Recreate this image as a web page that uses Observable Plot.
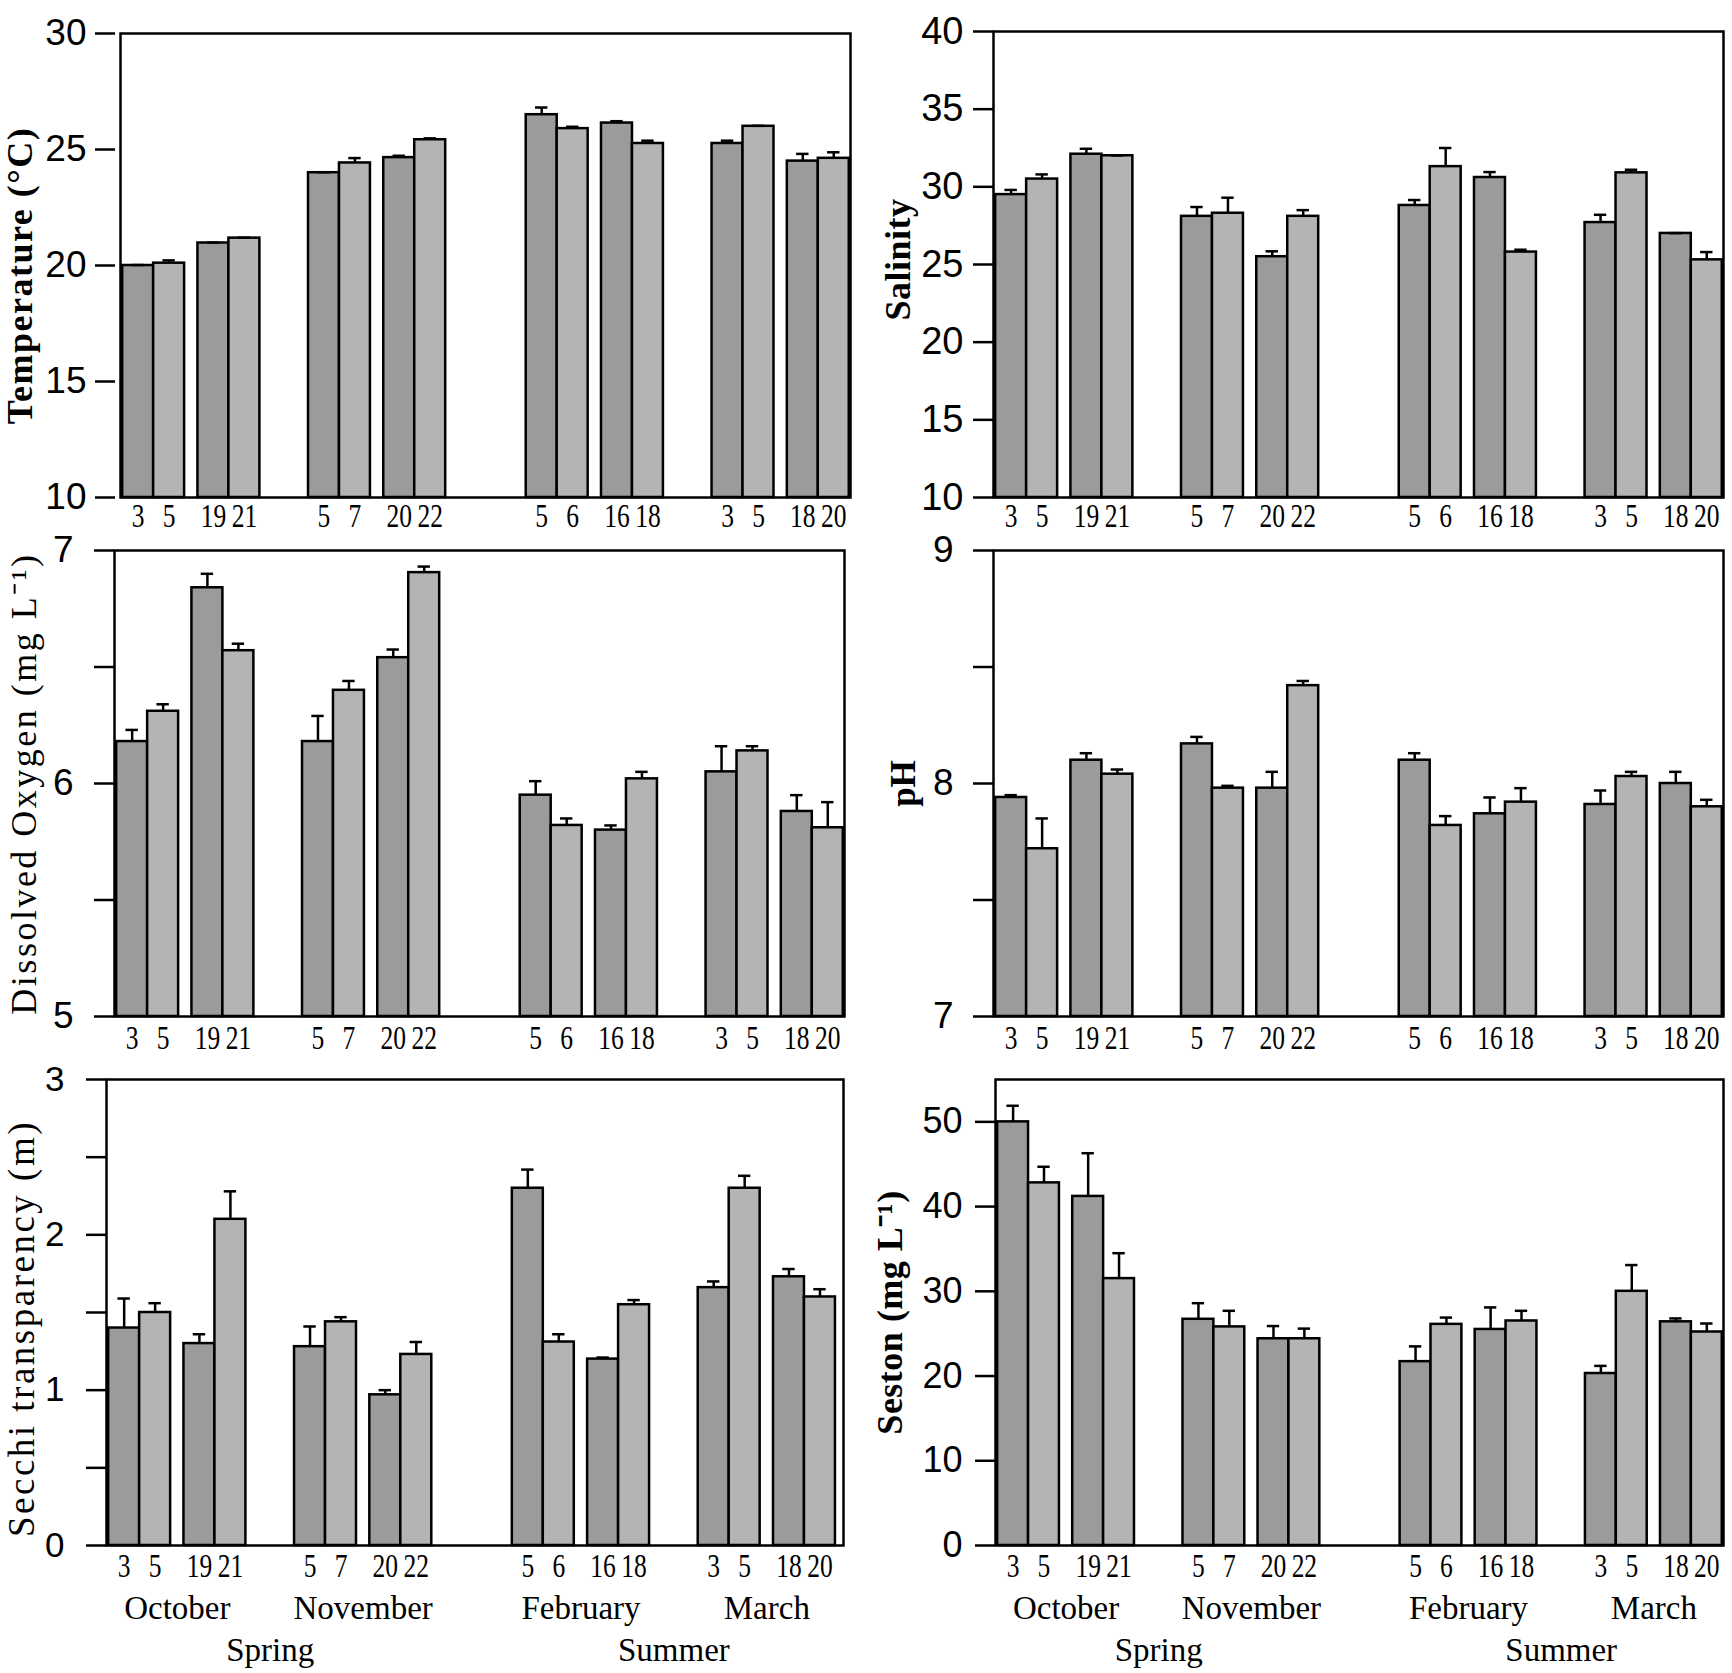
<!DOCTYPE html>
<html><head><meta charset="utf-8">
<script src="https://cdn.jsdelivr.net/npm/d3@7"></script>
<script src="https://cdn.jsdelivr.net/npm/@observablehq/plot@0.6"></script>
<style>
html,body{margin:0;padding:0;background:#fff;}
#root{position:relative;width:1732px;height:1673px;overflow:hidden;background:#fff;}
.panel{position:absolute;}
.panel svg{overflow:visible;background:transparent !important;}
</style></head><body><div id="root"></div>
<script>
// ---- categories ----
const dates = ["3","5","19","21","5","7","20","22","5","6","16","18","3","5","18","20"];
const months = ["October","November","February","March"];
const monthSeason = ["Spring","Spring","Summer","Summer"];
const seasons = ["Spring","Summer"];
const tones = ["dark","light"];

// ---- series values (mean, upper error) ----
const tempMean = [20.0,20.1,20.97,21.18,24.0,24.42,24.65,25.42,26.5,25.9,26.14,25.26,25.26,26.0,24.5,24.62];
const tempErr  = [0.02,0.12,0.02,0.02,0.02,0.21,0.08,0.06,0.31,0.08,0.08,0.12,0.12,0.02,0.31,0.26];
const salMean  = [29.5,30.5,32.1,32.0,28.1,28.3,25.5,28.1,28.8,31.3,30.6,25.8,27.7,30.9,27.0,25.3];
const salErr   = [0.3,0.3,0.35,0.02,0.6,1.0,0.35,0.4,0.35,1.2,0.35,0.15,0.5,0.2,0.02,0.5];
const doMean   = [6.18,6.31,6.84,6.57,6.18,6.40,6.54,6.905,5.95,5.82,5.80,6.02,6.05,6.14,5.88,5.81];
const doErr    = [0.05,0.03,0.06,0.03,0.11,0.04,0.035,0.026,0.06,0.03,0.02,0.03,0.11,0.02,0.07,0.11];
const phMean   = [7.94,7.72,8.10,8.04,8.17,7.98,7.98,8.42,8.10,7.82,7.87,7.92,7.91,8.03,8.00,7.90];
const phErr    = [0.01,0.13,0.03,0.02,0.03,0.01,0.07,0.02,0.03,0.04,0.07,0.06,0.06,0.02,0.05,0.03];
const secMean  = [1.40,1.50,1.30,2.10,1.28,1.44,0.97,1.23,2.30,1.31,1.20,1.55,1.66,2.30,1.73,1.60];
const secErr   = [0.19,0.06,0.06,0.18,0.13,0.03,0.03,0.08,0.12,0.05,0.01,0.03,0.04,0.08,0.05,0.05];
const sesMean  = [50.0,42.8,41.2,31.5,26.7,25.8,24.4,24.4,21.7,26.1,25.5,26.5,20.3,30.0,26.4,25.2];
const sesErr   = [1.9,1.9,5.1,3.0,1.9,1.9,1.5,1.2,1.8,0.8,2.6,1.2,0.9,3.1,0.4,1.0];

// ---- tick values ----
const tempTicks = [10,15,20,25,30];
const salTicks  = [10,15,20,25,30,35,40];
const doTicks   = [5,5.5,6,6.5,7];
const phTicks   = [7,7.5,8,8.5,9];
const secTicks  = [0,0.5,1,1.5,2,2.5,3];
const sesTicks  = [0,10,20,30,40,50];

// ---- layout of the grouped x axis (in bar-width units) ----
const BAR = 1, PAIR_GAP = 0.43, MONTH_GAP = 1.57, SEASON_GAP = 2.6;
function slotStart(i) {
  const m = Math.floor(i / 4), p = Math.floor(i / 2) % 2;
  let s = i * BAR + (m + p) * PAIR_GAP;
  for (let k = 1; k <= m; k++) s += monthSeason[k] === monthSeason[k - 1] ? MONTH_GAP : SEASON_GAP;
  return s;
}
const slots = dates.map((d, i) => ({date: d, i, x1: slotStart(i), x2: slotStart(i) + BAR, xc: slotStart(i) + BAR / 2, tone: tones[i % 2]}));
const monthRows = months.map((m, k) => ({month: m, xc: (slots[4 * k].x1 + slots[4 * k + 3].x2) / 2}));
const seasonRows = seasons.map(s => {
  const idx = months.map((m, k) => k).filter(k => monthSeason[k] === s);
  return {season: s, xc: (slots[4 * idx[0]].x1 + slots[4 * idx[idx.length - 1] + 3].x2) / 2};
});

const DARK = "#9b9b9b", LIGHT = "#b4b4b4";
const SERIF = "'Liberation Serif','Times New Roman',serif";
const SANS = "'Liberation Sans',Arial,sans-serif";

const panels = [
  {left:0, top:0, w:870, h:525, mL:120, mR:20, mT:33, mB:28, dom:[10,30], ticks:tempTicks, lab:d=>true,
   mean:tempMean, err:tempErr, label:"Temperature (°C)", lx:100, ldy:10, lw:"bold", ls:"1.5px", lfs:36, pad:9, adx:-5, tfs:37, xdy:19, xdom:[-0.07,23.5]},
  {left:870, top:0, w:862, h:525, mL:123, mR:9, mT:31, mB:28, dom:[10,40], ticks:salTicks, lab:d=>true,
   mean:salMean, err:salErr, label:"Salinity", lx:95, ldy:-5, lw:"bold", ls:"0.5px", lfs:36, pad:10, adx:0, tfs:38, xdy:19, xdom:[-0.07,23.5]},
  {left:0, top:525, w:870, h:530, mL:114, mR:26, mT:25, mB:39, dom:[5,7], ticks:doTicks, lab:d=>d%1===0,
   mean:doMean, err:doErr, label:"Dissolved Oxygen (mg L⁻¹)", lx:90, ldy:0, lw:"normal", ls:"2.5px", lfs:36, pad:21, adx:0, tfs:37, xdy:22, xdom:[-0.07,23.5]},
  {left:870, top:525, w:862, h:530, mL:123, mR:9, mT:25, mB:39, dom:[7,9], ticks:phTicks, lab:d=>d%1===0,
   mean:phMean, err:phErr, label:"pH", lx:90, ldy:0, lw:"bold", ls:"0px", lfs:35, pad:20, adx:0, tfs:37, xdy:22, xdom:[-0.07,23.5]},
  {left:0, top:1055, w:870, h:618, mL:106, mR:27, mT:24, mB:128, dom:[0,3], ticks:secTicks, lab:d=>d%1===0,
   mean:secMean, err:secErr, label:"Secchi transparency (m)", lx:84, ldy:16, lw:"normal", ls:"2.5px", lfs:37, pad:22, adx:0, tfs:35, xdy:21, xdom:[-0.07,23.72], bottom:true},
  {left:870, top:1055, w:862, h:618, mL:125, mR:9, mT:24, mB:128, dom:[0,55], ticks:sesTicks, lab:d=>true,
   mean:sesMean, err:sesErr, label:"Seston (mg L⁻¹)", lx:105, ldy:0, lw:"bold", ls:"0.5px", lfs:36, pad:13, adx:0, tfs:36, xdy:21, xdom:[-0.07,23.5], bottom:true}
];

function findMarkGroup(svg, desc, test) {
  let g = svg.querySelector(`g[aria-description="${desc}"]`);
  if (!g) g = Array.from(svg.querySelectorAll("g")).find(test) || null;
  return g;
}
function condense(g, sx) {
  if (!g) return;
  g.querySelectorAll("text").forEach(t => {
    let tr = t.getAttribute("transform");
    if (!tr) {
      const x = t.getAttribute("x") || 0, y = t.getAttribute("y") || 0;
      t.removeAttribute("x"); t.removeAttribute("y");
      tr = `translate(${x},${y})`;
    }
    t.setAttribute("transform", tr + ` scale(${sx},1)`);
  });
}

const root = document.getElementById("root");
for (const p of panels) {
  const data = slots.map(s => ({...s, v: p.mean[s.i], e: p.err[s.i], base: p.dom[0]}));
  const marks = [
    Plot.rect(data, {x1:"x1", x2:"x2", y1:"base", y2:"v", fill:"tone", stroke:"black", strokeWidth:2.5}),
    Plot.ruleX(data, {x:"xc", y1:"v", y2:d=>d.v+d.e, stroke:"black", strokeWidth:2.5}),
    Plot.ruleY(data, {y:d=>d.v+d.e, x1:d=>d.xc-0.2, x2:d=>d.xc+0.2, stroke:"black", strokeWidth:2.5}),
    Plot.frame({stroke:"black", strokeWidth:2.5}),
    Plot.axisY({ticks:p.ticks, tickFormat:d=>p.lab(d)?String(d):"", tickSize:20, tickPadding:p.pad, dx:p.adx,
      fontSize:p.tfs, fontFamily:SANS, stroke:"black", strokeWidth:2.5, label:null}),
    Plot.text(data, {x:"xc", text:"date", frameAnchor:"bottom", lineAnchor:"middle", dy:p.xdy, fontSize:34, fontFamily:SERIF, fill:"black", ariaDescription:"dates"}),
    Plot.text([p.label], {text:d=>d, frameAnchor:"left", textAnchor:"middle", lineAnchor:"middle", rotate:-90, dx:-p.lx, dy:p.ldy, fontSize:p.lfs, fontWeight:p.lw,
      fontFamily:SERIF, fill:"black", ariaDescription:"ylabel"})
  ];
  if (p.bottom) {
    marks.push(Plot.text(monthRows, {x:"xc", text:"month", frameAnchor:"bottom", lineAnchor:"middle", dy:63, fontSize:33, fontFamily:SERIF, fill:"black", ariaDescription:"months"}));
    marks.push(Plot.text(seasonRows, {x:"xc", text:"season", frameAnchor:"bottom", lineAnchor:"middle", dy:105, fontSize:33, fontFamily:SERIF, fill:"black", ariaDescription:"seasons"}));
  }
  const chart = Plot.plot({
    width:p.w, height:p.h, marginLeft:p.mL, marginRight:p.mR, marginTop:p.mT, marginBottom:p.mB,
    x:{domain:p.xdom, axis:null},
    y:{domain:p.dom, axis:null},
    color:{domain:tones, range:[DARK, LIGHT]},
    style:{background:"transparent", color:"black", fontFamily:SERIF, overflow:"visible"},
    marks
  });
  const yl = findMarkGroup(chart, "ylabel", g => { const t = g.querySelectorAll("text"); return t.length === 1 && t[0].textContent === p.label; });
  if (yl) yl.querySelectorAll("text").forEach(t => t.style.letterSpacing = p.ls);
  const dg = findMarkGroup(chart, "dates", g => { const t = g.querySelectorAll("text"); return t.length === dates.length && t[2].textContent === dates[2]; });
  condense(dg, 0.75);
  const div = document.createElement("div");
  div.className = "panel";
  div.style.left = p.left + "px";
  div.style.top = p.top + "px";
  div.appendChild(chart);
  root.appendChild(div);
}
</script></body></html>
